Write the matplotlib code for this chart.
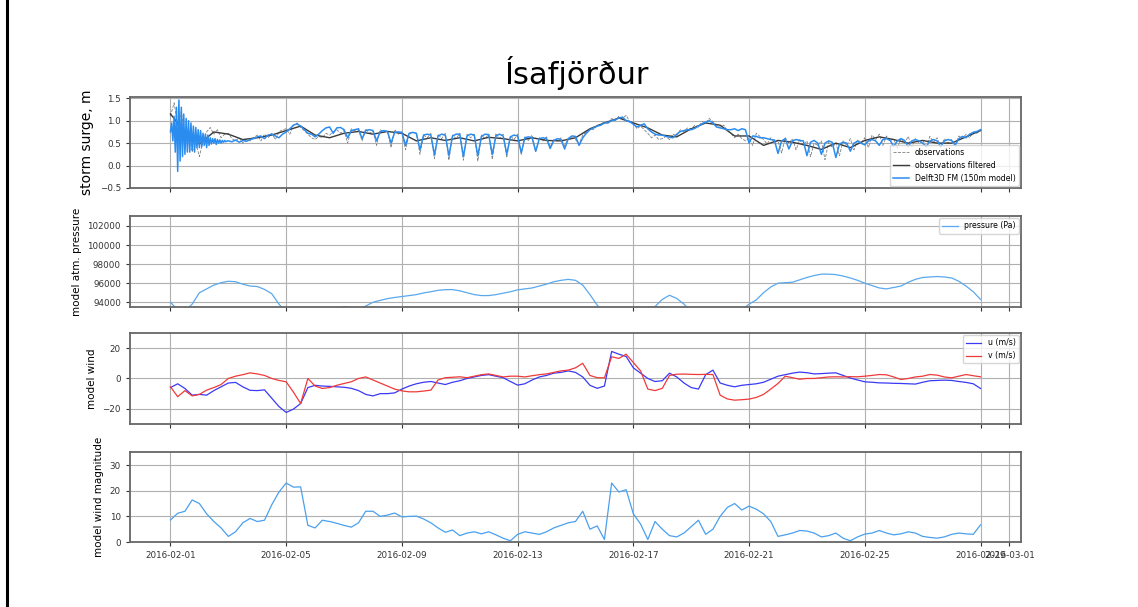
import numpy as np
import pandas as pd
import matplotlib
matplotlib.use('Agg')
import matplotlib.pyplot as plt
import matplotlib.dates as mdates
from matplotlib.lines import Line2D

# storm surge (m)
# model spin-up, hourly from 2016-02-01 00:00
surge_model_spinup = [
    0.75, 0.95, 0.55, 1.10, 0.30, 1.30, -0.13, 1.46, 0.10, 1.30, 0.20, 1.15,
    0.25, 1.05, 0.30, 1.00, 0.30, 0.95, 0.35, 0.88, 0.30, 0.85, 0.40, 0.80,
    0.40, 0.78, 0.42, 0.72, 0.45, 0.70, 0.40, 0.68, 0.45, 0.62, 0.48, 0.60,
    0.50, 0.60, 0.47, 0.58, 0.50, 0.57, 0.50, 0.56, 0.52, 0.56, 0.53, 0.55,
]
# model, 3-hourly from 2016-02-03 00:00
surge_model = [
    0.55, 0.53, 0.57, 0.52, 0.56, 0.54, 0.58, 0.60,
    0.64, 0.66, 0.60, 0.68, 0.70, 0.66, 0.62, 0.70,
    0.75, 0.82, 0.90, 0.93, 0.88, 0.80, 0.72, 0.70,
    0.64, 0.70, 0.78, 0.84, 0.86, 0.72, 0.84, 0.85,
    0.80, 0.62, 0.78, 0.80, 0.82, 0.60, 0.78, 0.80,
    0.78, 0.55, 0.76, 0.78, 0.76, 0.50, 0.74, 0.75,
    0.74, 0.45, 0.72, 0.74, 0.72, 0.35, 0.68, 0.70,
    0.68, 0.24, 0.66, 0.70, 0.68, 0.22, 0.66, 0.70,
    0.70, 0.20, 0.66, 0.70, 0.68, 0.22, 0.65, 0.70,
    0.69, 0.25, 0.66, 0.70, 0.66, 0.26, 0.64, 0.68,
    0.66, 0.28, 0.62, 0.64, 0.62, 0.32, 0.60, 0.62,
    0.60, 0.38, 0.56, 0.60, 0.58, 0.37, 0.60, 0.66,
    0.65, 0.45, 0.62, 0.72, 0.80, 0.84, 0.88, 0.90,
    0.95, 0.96, 1.00, 1.02, 1.06, 1.08, 1.00, 0.98,
    0.92, 0.86, 0.90, 0.93, 0.82, 0.75, 0.70, 0.68,
    0.68, 0.65, 0.63, 0.62, 0.70, 0.76, 0.78, 0.80,
    0.80, 0.83, 0.88, 0.93, 0.97, 1.00, 0.95, 0.86,
    0.84, 0.82, 0.80, 0.80, 0.82, 0.78, 0.82, 0.80,
    0.50, 0.66, 0.65, 0.62, 0.62, 0.60, 0.58, 0.57,
    0.27, 0.55, 0.60, 0.37, 0.55, 0.58, 0.56, 0.55,
    0.22, 0.52, 0.56, 0.50, 0.25, 0.50, 0.55, 0.52,
    0.18, 0.48, 0.52, 0.50, 0.32, 0.50, 0.54, 0.50,
    0.46, 0.55, 0.58, 0.55, 0.45, 0.58, 0.60, 0.56,
    0.43, 0.55, 0.60, 0.56, 0.42, 0.55, 0.58, 0.55,
    0.50, 0.42, 0.55, 0.58, 0.55, 0.42, 0.55, 0.58,
    0.56, 0.45, 0.60, 0.65, 0.62, 0.70, 0.74, 0.76,
    0.80,
]
# observations, 3-hourly from 2016-02-01 00:00
surge_obs = [
    1.10, 1.40, 0.90, 1.20, 0.60, 0.85, 0.30, 0.50,
    0.20, 0.55, 0.75, 0.85, 0.70, 0.80, 0.62, 0.70,
    0.72, 0.60, 0.55, 0.62, 0.50, 0.58, 0.55, 0.62,
    0.68, 0.55, 0.70, 0.62, 0.72, 0.58, 0.75, 0.80,
    0.82, 0.70, 0.90, 0.95, 0.85, 0.78, 0.70, 0.62,
    0.58, 0.65, 0.62, 0.72, 0.68, 0.75, 0.80, 0.72,
    0.78, 0.50, 0.82, 0.78, 0.80, 0.55, 0.82, 0.72,
    0.76, 0.45, 0.80, 0.75, 0.78, 0.40, 0.80, 0.70,
    0.75, 0.35, 0.70, 0.74, 0.72, 0.25, 0.68, 0.62,
    0.72, 0.15, 0.70, 0.60, 0.72, 0.12, 0.68, 0.60,
    0.72, 0.12, 0.70, 0.62, 0.70, 0.10, 0.68, 0.60,
    0.70, 0.14, 0.72, 0.60, 0.70, 0.18, 0.66, 0.58,
    0.70, 0.25, 0.64, 0.56, 0.68, 0.30, 0.62, 0.55,
    0.64, 0.42, 0.58, 0.55, 0.62, 0.44, 0.60, 0.62,
    0.58, 0.48, 0.68, 0.75, 0.82, 0.80, 0.90, 0.92,
    0.98, 0.92, 1.05, 1.00, 1.10, 1.05, 1.12, 0.98,
    0.95, 0.82, 0.88, 0.80, 0.72, 0.62, 0.68, 0.58,
    0.60, 0.65, 0.58, 0.70, 0.66, 0.80, 0.76, 0.84,
    0.82, 0.90, 0.86, 0.98, 0.95, 1.05, 0.98, 0.90,
    0.85, 0.90, 0.78, 0.72, 0.62, 0.70, 0.60, 0.55,
    0.62, 0.45, 0.72, 0.65, 0.58, 0.48, 0.62, 0.52,
    0.55, 0.28, 0.62, 0.50, 0.60, 0.35, 0.58, 0.45,
    0.55, 0.20, 0.50, 0.45, 0.55, 0.13, 0.52, 0.40,
    0.50, 0.22, 0.55, 0.45, 0.60, 0.35, 0.58, 0.50,
    0.62, 0.40, 0.68, 0.58, 0.70, 0.45, 0.66, 0.55,
    0.60, 0.38, 0.62, 0.50, 0.65, 0.42, 0.60, 0.50,
    0.58, 0.40, 0.65, 0.52, 0.62, 0.40, 0.60, 0.50,
    0.58, 0.45, 0.66, 0.60, 0.70, 0.62, 0.75, 0.72,
    0.78,
]
# filtered observations, 12-hourly
surge_filtered = [
    1.15, 0.75, 0.48, 0.75, 0.70, 0.58, 0.62, 0.68,
    0.78, 0.88, 0.68, 0.62, 0.72, 0.76, 0.70, 0.76,
    0.72, 0.55, 0.62, 0.56, 0.62, 0.55, 0.63, 0.60,
    0.55, 0.62, 0.56, 0.55, 0.62, 0.82, 0.95, 1.06,
    0.95, 0.84, 0.68, 0.64, 0.82, 0.95, 0.90, 0.66,
    0.66, 0.45, 0.56, 0.52, 0.45, 0.36, 0.50, 0.40,
    0.56, 0.64, 0.58, 0.50, 0.56, 0.50, 0.50, 0.64,
    0.78,
]

# model atm. pressure (Pa), 6-hourly
pressure_pa = [
    94000, 93200, 93100, 93800,
    95000, 95400, 95800, 96050,
    96200, 96150, 95900, 95700,
    95650, 95350, 94900, 93800,
    93000, 92500, 92200, 92000,
    92000, 92300, 92700, 93200,
    93550, 93400, 93300, 93600,
    94000, 94200, 94380, 94500,
    94600, 94700, 94800, 94980,
    95100, 95250, 95320, 95330,
    95200, 95000, 94800, 94700,
    94700, 94800, 94950, 95100,
    95300, 95400, 95500, 95700,
    95900, 96150, 96300, 96400,
    96300, 95800, 94800, 93700,
    92800, 92300, 92000, 92000,
    92300, 92700, 93100, 93550,
    94300, 94730, 94400, 93800,
    93000, 92600, 92300, 92200,
    92200, 92400, 92800, 93200,
    93800, 94250, 95000, 95600,
    96000, 96050, 96100, 96350,
    96600, 96800, 96950, 96950,
    96900, 96750, 96550, 96300,
    96000, 95750, 95500, 95400,
    95550, 95700, 96100, 96400,
    96600, 96650, 96700, 96650,
    96550, 96200, 95700, 95100,
    94300,
]

# model wind (m/s), 6-hourly
wind_u = [
    -6, -3.5, -6.6, -11,
    -10.5, -11, -8, -5.5,
    -3, -2.6, -5.5, -7.8,
    -8, -7.5, -13, -18.5,
    -22.4, -20.2, -16.5, -6,
    -4.5, -5, -5.2, -5.5,
    -5.8, -6.5, -8, -10.5,
    -11.5, -10, -10, -9.5,
    -7, -5, -3.5, -2.5,
    -2, -3, -4, -2.5,
    -1.5, 0, 1, 2,
    2.5, 1.5, 0.5, -2,
    -4.4, -3.5, -1, 1,
    2, 3.5, 4, 5,
    4, 1, -4.5, -6.5,
    -5, 17.8, 16, 14.5,
    7, 3.5, 0, -2,
    -1.5, 3.5, 1, -3,
    -6, -7, 2.5, 5.5,
    -3, -4.5, -5.5, -4.5,
    -4, -3.5, -2.5, -0.5,
    1.5, 2.5, 3.5, 4.2,
    3.8, 3, 3.2, 3.5,
    3.7, 2, 0.3, -1,
    -2.2, -2.5, -2.9, -3,
    -3.2, -3.3, -3.5, -3.7,
    -2.5, -1.5, -1.3, -1.1,
    -1.3, -2, -2.6, -3.5,
    -6.6,
]
wind_v = [
    -5.5, -12, -8, -11.5,
    -10.5, -7.7, -6, -4,
    0, 1.5, 2.5, 3.7,
    3, 2, 0, -1.3,
    -2.2, -9, -16.5, 0,
    -5, -6.6, -6, -4.5,
    -3.3, -2.2, 0, 1,
    -1, -3, -5, -7,
    -8.2, -8.8, -8.8, -8.3,
    -7.7, -1, 0.5, 0.8,
    1.1, 0.5, 1.5, 2.5,
    3, 2, 1, 1.5,
    1.5, 1, 1.8, 2.5,
    3, 4, 5, 5.5,
    7, 10, 2, 0.5,
    0.4, 14.3, 13.2, 16,
    10.5, 5, -7, -8,
    -6.5, 2, 2.8, 2.9,
    2.7, 2.6, 2.7, 2.6,
    -11, -13.5, -14.3, -14,
    -13.6, -12.5, -10.5, -7,
    -3.3, 1.5, 0.5, -0.5,
    0, 0, 0.5, 1,
    1.1, 1, 1.2, 1.1,
    1.5, 2, 2.6, 2.4,
    1, -0.7, 0, 1,
    1.5, 2.6, 2.2, 1,
    0.4, 1.5, 2.6, 1.8,
    1.1,
]
wind_mag = [
    8.6, 11.2, 12, 16.4,
    15, 11, 8, 5.5,
    2.2, 4, 7.5, 9.2,
    8, 8.5, 14.5, 19.5,
    23, 21.4, 21.5, 6.5,
    5.5, 8.5, 8, 7.3,
    6.5, 5.8, 7.5, 12,
    12, 10, 10.5, 11.3,
    9.8, 10, 10.1, 9,
    7.5, 5.5, 3.8, 4.7,
    2.5, 3.5, 4, 3.2,
    4, 2.8, 1.5, 0.5,
    3, 4, 3.5, 3,
    4, 5.5, 6.5, 7.5,
    8, 12, 5, 6.3,
    1, 23, 19.5, 20.4,
    11, 7, 1, 8,
    5, 2.5, 2, 3.5,
    6, 8.5, 3, 5,
    10, 13.5, 15, 12.5,
    14, 12.8, 11, 8,
    2.2, 2.8, 3.5, 4.5,
    4.3, 3.5, 2, 2.5,
    3.5, 1.5, 0.5, 2,
    3.1, 3.5, 4.5, 3.5,
    2.8, 3.2, 4, 3.5,
    2.2, 1.8, 1.5, 2,
    3, 3.5, 3.2, 3,
    6.7,
]

t_spin = pd.date_range('2016-02-01', periods=len(surge_model_spinup), freq='h')
t_model = pd.date_range('2016-02-03', periods=len(surge_model), freq='3h')
t_obs = pd.date_range('2016-02-01', periods=len(surge_obs), freq='3h')
t_filt = pd.date_range('2016-02-01', periods=len(surge_filtered), freq='12h')
t6 = pd.date_range('2016-02-01', periods=len(pressure_pa), freq='6h')

fig = plt.figure(figsize=(11.38, 6.07), dpi=100)
left, width, h = 0.1142, 0.783, 0.15
ax1 = fig.add_axes([left, 0.6903, width, h])
ax2 = fig.add_axes([left, 0.4942, width, h], sharex=ax1)
ax3 = fig.add_axes([left, 0.3015, width, h], sharex=ax1)
ax4 = fig.add_axes([left, 0.107, width, 0.148], sharex=ax1)

ax1.plot(t_obs, surge_obs, color='gray', ls='--', lw=0.6, label='observations')
ax1.plot(t_filt, surge_filtered, color='#3a3a3a', lw=1.0, label='observations filtered')
ax1.plot(t_spin.append(t_model), surge_model_spinup + surge_model,
         color='#2b8cf0', lw=1.1, label='Delft3D FM (150m model)')
ax1.set_ylim(-0.5, 1.53)
ax1.set_yticks([-0.5, 0.0, 0.5, 1.0, 1.5])
ax1.set_ylabel('storm surge, m', fontsize=10)
ax1.legend(loc='lower right', fontsize=5.6, borderaxespad=0.3)

ax2.plot(t6, pressure_pa, color='#5aa8ee', lw=0.9, label='pressure (Pa)')
ax2.set_ylim(93500, 103050)
ax2.set_yticks([94000, 96000, 98000, 100000, 102000])
ax2.set_ylabel('model atm. pressure', fontsize=7.5)
ax2.legend(loc='upper right', fontsize=5.6, borderaxespad=0.3)

ax3.plot(t6, wind_u, color='#3a3af5', lw=0.9, label='u (m/s)')
ax3.plot(t6, wind_v, color='#f03a3a', lw=0.9, label='v (m/s)')
ax3.set_ylim(-30, 30)
ax3.set_yticks([-20, 0, 20])
ax3.set_ylabel('model wind', fontsize=7.5)
ax3.legend(loc='upper right', fontsize=5.6, borderaxespad=0.3)

ax4.plot(t6, wind_mag, color='#4aa0ee', lw=0.9)
ax4.set_ylim(0, 35)
ax4.set_yticks([0, 10, 20, 30])
ax4.set_ylabel('model wind magnitude', fontsize=7.5)

ax4.xaxis.set_major_locator(mdates.DayLocator(bymonthday=range(1, 32, 4)))
ax4.xaxis.set_major_formatter(mdates.DateFormatter('%Y-%m-%d'))
ax4.set_xlim(pd.Timestamp('2016-01-30 14:24'), pd.Timestamp('2016-03-01 09:36'))

for ax in (ax1, ax2, ax3, ax4):
    ax.grid(True, color='#b0b0b0', lw=0.8)
    ax.tick_params(labelsize=6.3, colors='#333333', length=3)
    for s in ax.spines.values():
        s.set_color('#666666')
        s.set_linewidth(1.3)
for ax in (ax1, ax2, ax3):
    ax.tick_params(labelbottom=False)

fig.text(0.507, 0.88, 'Ísafjörður', ha='center', va='center', fontsize=22)
fig.add_artist(Line2D([0.0062, 0.0062], [0, 1], color='black', lw=2.2,
                      transform=fig.transFigure))

fig.savefig('out.png', dpi=100)
